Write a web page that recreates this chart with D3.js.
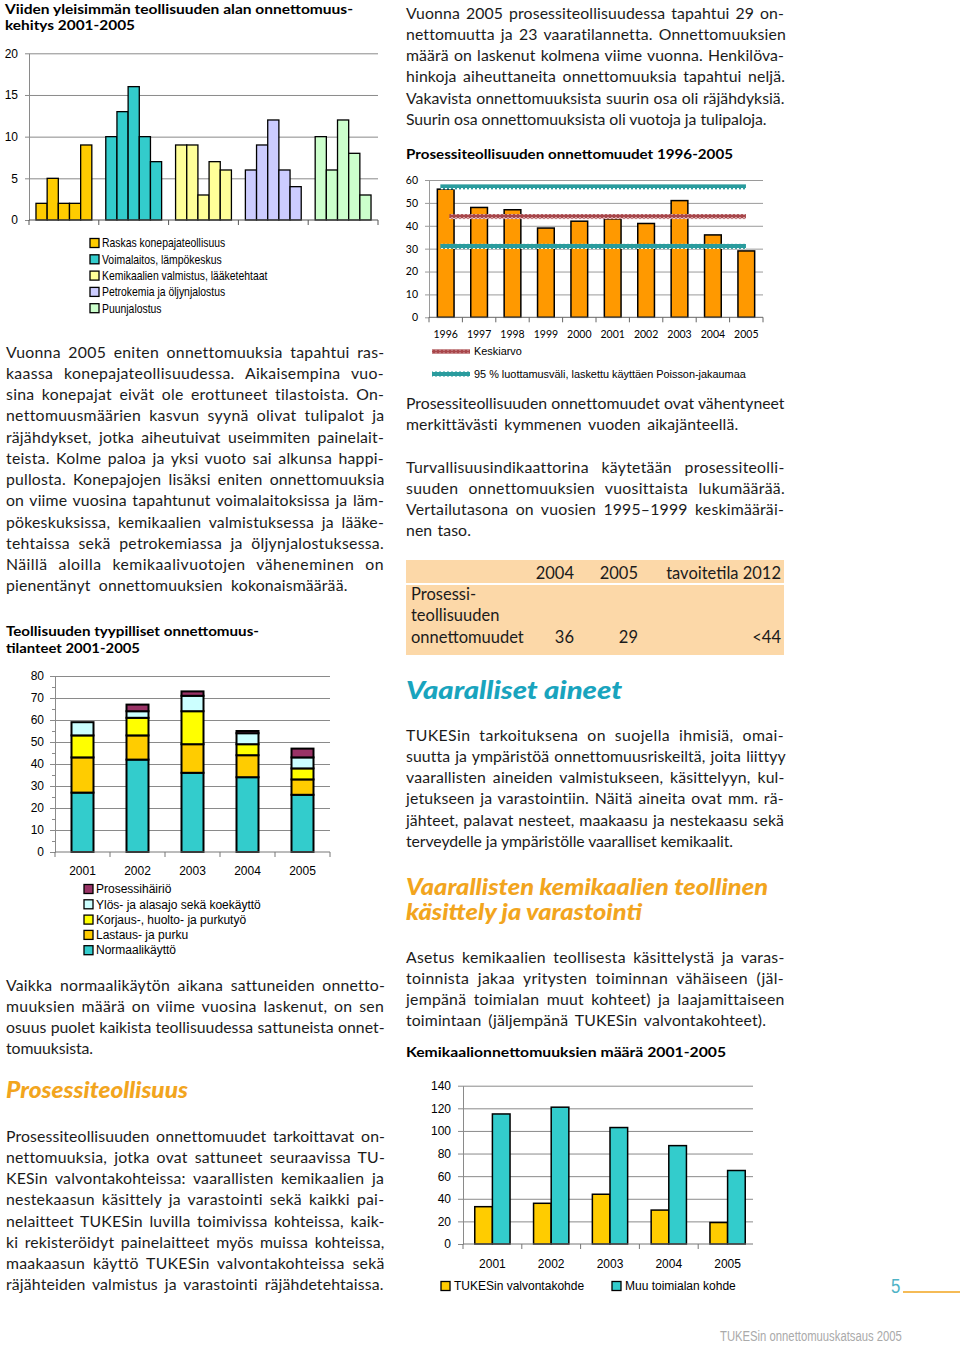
<!DOCTYPE html>
<html><head><meta charset="utf-8">
<script src="https://cdn.jsdelivr.net/npm/d3@7"></script>
<style>
body{margin:0;background:#fff}
svg{display:block}
</style></head><body>
<svg id="page" width="960" height="1347" font-family="Lato, 'Open Sans', sans-serif"></svg>
<script>
// ---------- DATA ----------
// Chart 1: Viiden yleisimmän teollisuuden alan onnettomuuskehitys 2001-2005
const chart1Years = ["2001","2002","2003","2004","2005"];
const chart1Industries = ["Raskas konepajateollisuus","Voimalaitos, lämpökeskus","Kemikaalien valmistus, lääketehtaat","Petrokemia ja öljynjalostus","Puunjalostus"];
const chart1Raskas = [2,5,2,2,9];
const chart1Voimalaitos = [10,13,16,10,7];
const chart1Kemikaalien = [9,9,3,7,6];
const chart1Petrokemia = [6,9,12,6,4];
const chart1Puunjalostus = [10,6,12,8,3];
const chart1Ticks = [0,5,10,15,20];

// Chart 2: Prosessiteollisuuden onnettomuudet 1996-2005
const chart2Years = ["1996","1997","1998","1999","2000","2001","2002","2003","2004","2005"];
const chart2Values = [56,48,47,39,42,43,41,51,36,29];
const chart2Mean = 44;
const chart2CILow = 31;
const chart2CIHigh = 57;
const chart2Ticks = [0,10,20,30,40,50,60];
const chart2Legend = ["Keskiarvo","95 % luottamusväli, laskettu käyttäen Poisson-jakaumaa"];

// Chart 3: Teollisuuden tyypilliset onnettomuustilanteet 2001-2005
const chart3Years = ["2001","2002","2003","2004","2005"];
const chart3Keys = ["Normaalikäyttö","Lastaus- ja purku","Korjaus-, huolto- ja purkutyö","Ylös- ja alasajo sekä koekäyttö","Prosessihäiriö"];
const chart3Normaali = [27,42,36,34,26];
const chart3Lastaus = [16,11,13,10,7];
const chart3Korjaus = [10,8,15,5,5];
const chart3Ylos = [6,3,7,5,5];
const chart3Prosessi = [0,3,2,1,4];
const chart3Ticks = [0,10,20,30,40,50,60,70,80];

// Chart 4: Kemikaalionnettomuuksien määrä 2001-2005
const chart4Years = ["2001","2002","2003","2004","2005"];
const chart4Series = ["TUKESin valvontakohde","Muu toimialan kohde"];
const chart4Tukes = [33,36,44,30,19];
const chart4Muu = [115,121,103,87,65];
const chart4Ticks = [0,20,40,60,80,100,120,140];

// Table
const tableHeaders = ["2004","2005","tavoitetila 2012"];
const tableRowLabel = ["Prosessi-","teollisuuden","onnettomuudet"];
const tableValues = ["36","29","<44"];

// ---------- TEXT ----------
const paraL1 = ["Vuonna 2005 eniten onnettomuuksia tapahtui ras-","kaassa konepajateollisuudessa. Aikaisempina vuo-","sina konepajat eivät ole erottuneet tilastoista. On-","nettomuusmäärien kasvun syynä olivat tulipalot ja","räjähdykset, jotka aiheutuivat useimmiten painelait-","teista. Kolme paloa ja yksi vuoto sai alkunsa happi-","pullosta. Konepajojen lisäksi eniten onnettomuuksia","on viime vuosina tapahtunut voimalaitoksissa ja läm-","pökeskuksissa, kemikaalien valmistuksessa ja lääke-","tehtaissa sekä petrokemiassa ja öljynjalostuksessa.","Näillä aloilla kemikaalivuotojen väheneminen on","pienentänyt onnettomuuksien kokonaismäärää."];
const paraL2 = ["Vaikka normaalikäytön aikana sattuneiden onnetto-","muuksien määrä on viime vuosina laskenut, on sen","osuus puolet kaikista teollisuudessa sattuneista onnet-","tomuuksista."];
const paraL3 = ["Prosessiteollisuuden onnettomuudet tarkoittavat on-","nettomuuksia, jotka ovat sattuneet seuraavissa TU-","KESin valvontakohteissa: vaarallisten kemikaalien ja","nestekaasun käsittely ja varastointi sekä kaikki pai-","nelaitteet TUKESin luvilla toimivissa kohteissa, kaik-","ki rekisteröidyt painelaitteet myös muissa kohteissa,","maakaasun käyttö TUKESin valvontakohteissa sekä","räjähteiden valmistus ja varastointi räjähdetehtaissa."];
const paraR1 = ["Vuonna 2005 prosessiteollisuudessa tapahtui 29 on-","nettomuutta ja 23 vaaratilannetta. Onnettomuuksien","määrä on laskenut kolmena viime vuonna. Henkilöva-","hinkoja aiheuttaneita onnettomuuksia tapahtui neljä.","Vakavista onnettomuuksista suurin osa oli räjähdyksiä.","Suurin osa onnettomuuksista oli vuotoja ja tulipaloja."];
const paraR2 = ["Prosessiteollisuuden onnettomuudet ovat vähentyneet","merkittävästi kymmenen vuoden aikajänteellä."];
const paraR3 = ["Turvallisuusindikaattorina käytetään prosessiteolli-","suuden onnettomuuksien vuosittaista lukumäärää.","Vertailutasona on vuosien 1995–1999 keskimääräi-","nen taso."];
const paraR4 = ["TUKESin tarkoituksena on suojella ihmisiä, omai-","suutta ja ympäristöä onnettomuusriskeiltä, joita liittyy","vaarallisten aineiden valmistukseen, käsittelyyn, kul-","jetukseen ja varastointiin. Näitä aineita ovat mm. rä-","jähteet, palavat nesteet, maakaasu ja nestekaasu sekä","terveydelle ja ympäristölle vaaralliset kemikaalit."];
const paraR5 = ["Asetus kemikaalien teollisesta käsittelystä ja varas-","toinnista jakaa yritysten toiminnan vähäiseen (jäl-","jempänä toimialan muut kohteet) ja laajamittaiseen","toimintaan (jäljempänä TUKESin valvontakohteet)."];

// ---------- DRAW ----------
const svg = d3.select("#page");
svg.append("rect").attr("width",960).attr("height",1347).attr("fill","#fff");
const defs = svg.append("defs");
const ARIAL = "'Liberation Sans', Arial, sans-serif";
const BODY_FS = 15.8, LH = 21.25, COLW = 378;

// patterns
const mp = defs.append("pattern").attr("id","meanPat").attr("width",4).attr("height",6).attr("patternUnits","userSpaceOnUse");
mp.append("rect").attr("width",4).attr("height",6).attr("fill","#a8464a");
mp.append("path").attr("d","M0,1.5 L2,3 L4,1.5 M0,4.5 L2,3 L4,4.5").attr("stroke","#fff").attr("stroke-width",0.8).attr("fill","none");
const cp = defs.append("pattern").attr("id","ciPat").attr("width",4).attr("height",6).attr("patternUnits","userSpaceOnUse");
cp.append("rect").attr("width",4).attr("height",6).attr("fill","#2a9c9e");
cp.append("rect").attr("x",1).attr("y",2).attr("width",2).attr("height",2).attr("fill","#fff");

function para(lines, x, y, last){
  const g = svg.append("g");
  lines.forEach((t,i)=>{
    const el = g.append("text").attr("x",x).attr("y",y+i*LH).attr("dy","0.35em")
      .attr("font-size",BODY_FS).attr("fill","#1b1b1b").text(t);
    const target = (i===lines.length-1) ? last : COLW;
    if(target){
      const w = el.node().getComputedTextLength();
      const spaces = (t.match(/ /g)||[]).length;
      const n = t.length;
      const extra = target - w;
      if(extra > 0 && spaces > 0){
        el.style("letter-spacing", (0.45*extra/n)+"px");
        el.style("word-spacing", (0.55*extra/spaces)+"px");
      } else {
        el.style("letter-spacing", (extra/n)+"px");
      }
    }
  });
}
function title(t, x, y, w, fs){
  svg.append("text").attr("x",x).attr("y",y).attr("dy","0.35em").attr("font-size",fs||13.5)
    .attr("font-weight","bold").attr("fill","#000").attr("textLength",w).attr("lengthAdjust","spacingAndGlyphs").text(t);
}
function heading(t, x, y, w, fs, color){
  svg.append("text").attr("x",x).attr("y",y).attr("dy","0.35em").attr("font-size",fs)
    .attr("font-weight",900).attr("font-style","italic").attr("fill",color)
    .attr("textLength",w).attr("lengthAdjust","spacingAndGlyphs").text(t);
}
function styleAxis(g, color){
  g.selectAll("path").attr("stroke",color);
  g.selectAll("line").attr("stroke",color);
}

// ===== Chart 1 =====
title("Viiden yleisimmän teollisuuden alan onnettomuus-",5,9,348);
title("kehitys 2001-2005",5,25,130);
{
  const x0=29,x1=378;
  const y = d3.scaleLinear().domain([0,20]).range([220,53.3]);
  const xg = d3.scaleBand().domain(chart1Industries).range([x0,x1]).paddingInner(0.2).paddingOuter(0.1);
  const xs = d3.scaleBand().domain(chart1Years).range([0,xg.bandwidth()]);
  const cols = ["#ffcc00","#33cccc","#ffff99","#ccccff","#ccffcc"];
  const series = [chart1Raskas,chart1Voimalaitos,chart1Kemikaalien,chart1Petrokemia,chart1Puunjalostus];
  const grid = svg.append("g").attr("transform",`translate(${x0},0)`)
    .call(d3.axisLeft(y).tickValues(chart1Ticks.slice(1)).tickSize(-(x1-x0)).tickFormat(""));
  grid.select(".domain").remove(); styleAxis(grid,"#8a8a8a");
  const ya = svg.append("g").attr("transform",`translate(${x0},0)`)
    .call(d3.axisLeft(y).tickValues(chart1Ticks).tickSize(4).tickSizeOuter(0).tickPadding(7));
  styleAxis(ya,"#8a8a8a");
  ya.selectAll("text").attr("font-family",ARIAL).attr("font-size",12).attr("fill","#000");
  series.forEach((vals,si)=>{
    svg.append("g").selectAll("rect").data(vals).join("rect")
      .attr("x",(d,i)=>xg(chart1Industries[si])+xs(chart1Years[i]))
      .attr("y",d=>y(d)).attr("width",xs.bandwidth()).attr("height",d=>y(0)-y(d))
      .attr("fill",cols[si]).attr("stroke","#000").attr("stroke-width",1.3);
  });
  svg.append("line").attr("x1",x0).attr("x2",x1).attr("y1",y(0)).attr("y2",y(0)).attr("stroke","#555");
  const bounds = chart1Industries.map(d=>xg(d)-(xg.step()-xg.bandwidth())/2).concat([x1]);
  svg.append("g").selectAll("line").data(bounds).join("line")
    .attr("x1",d=>d).attr("x2",d=>d).attr("y1",y(0)).attr("y2",y(0)+5).attr("stroke","#555");
  const lg = svg.append("g").selectAll("g").data(chart1Industries).join("g")
    .attr("transform",(d,i)=>`translate(90,${243+i*16.3})`);
  lg.append("rect").attr("x",0).attr("y",-4.5).attr("width",9).attr("height",9)
    .attr("fill",(d,i)=>cols[i]).attr("stroke","#000").attr("stroke-width",1.3);
  lg.append("text").attr("transform","translate(12,0) scale(0.84,1)").attr("dy","0.35em")
    .attr("font-family",ARIAL).attr("font-size",12.4).text(d=>d);
}

// ===== Paragraphs left =====
para(paraL1, 6, 352, 341);

// ===== Chart 3 =====
title("Teollisuuden tyypilliset onnettomuus-",6,631,253);
title("tilanteet 2001-2005",6,648,134);
{
  const x0=55,x1=330;
  const y = d3.scaleLinear().domain([0,80]).range([852,676]);
  const x = d3.scaleBand().domain(chart3Years).range([x0,x1]).paddingInner(0.6).paddingOuter(0.3);
  const table = chart3Years.map((yr,i)=>({year:yr,
    [chart3Keys[0]]:chart3Normaali[i],[chart3Keys[1]]:chart3Lastaus[i],[chart3Keys[2]]:chart3Korjaus[i],
    [chart3Keys[3]]:chart3Ylos[i],[chart3Keys[4]]:chart3Prosessi[i]}));
  const stack = d3.stack().keys(chart3Keys)(table);
  const cols = {"Normaalikäyttö":"#33cccc","Lastaus- ja purku":"#ffcc00","Korjaus-, huolto- ja purkutyö":"#ffff00","Ylös- ja alasajo sekä koekäyttö":"#ccffff","Prosessihäiriö":"#993366"};
  const grid = svg.append("g").attr("transform",`translate(${x0},0)`)
    .call(d3.axisLeft(y).tickValues(chart3Ticks.slice(1)).tickSize(-(x1-x0)).tickFormat(""));
  grid.select(".domain").remove(); styleAxis(grid,"#8a8a8a");
  const minor = svg.append("g").attr("transform",`translate(${x0},0)`)
    .call(d3.axisLeft(y).tickValues(d3.range(5,80,10)).tickSize(3).tickFormat(""));
  minor.select(".domain").remove(); styleAxis(minor,"#8a8a8a");
  const ya = svg.append("g").attr("transform",`translate(${x0},0)`)
    .call(d3.axisLeft(y).tickValues(chart3Ticks).tickSize(5).tickSizeOuter(0).tickPadding(6));
  styleAxis(ya,"#8a8a8a");
  ya.selectAll("text").attr("font-family",ARIAL).attr("font-size",12).attr("fill","#000");
  stack.forEach(s=>{
    svg.append("g").selectAll("rect").data(s.filter(d=>d[1]>d[0])).join("rect")
      .attr("x",d=>x(d.data.year)).attr("width",x.bandwidth())
      .attr("y",d=>y(d[1])).attr("height",d=>y(d[0])-y(d[1]))
      .attr("fill",cols[s.key]).attr("stroke","#000").attr("stroke-width",2);
  });
  svg.append("line").attr("x1",x0).attr("x2",x1).attr("y1",y(0)).attr("y2",y(0)).attr("stroke","#777");
  const bounds = chart3Years.map(d=>x(d)-(x.step()-x.bandwidth())/2).concat([x1]);
  svg.append("g").selectAll("line").data(bounds).join("line")
    .attr("x1",d=>d).attr("x2",d=>d).attr("y1",y(0)).attr("y2",y(0)+5).attr("stroke","#777");
  svg.append("g").selectAll("text").data(chart3Years).join("text")
    .attr("x",d=>x(d)+x.bandwidth()/2).attr("y",871).attr("dy","0.35em").attr("text-anchor","middle")
    .attr("font-family",ARIAL).attr("font-size",12).text(d=>d);
  const legendKeys = chart3Keys.slice().reverse();
  const lg = svg.append("g").selectAll("g").data(legendKeys).join("g")
    .attr("transform",(d,i)=>`translate(84,${889+i*15.3})`);
  lg.append("rect").attr("x",0).attr("y",-4.5).attr("width",9).attr("height",9)
    .attr("fill",d=>cols[d]).attr("stroke","#000").attr("stroke-width",1.3);
  lg.append("text").attr("x",12).attr("dy","0.35em").attr("font-family",ARIAL).attr("font-size",12).text(d=>d);
}

para(paraL2, 6, 985, 87);
heading("Prosessiteollisuus", 6, 1090, 182, 22, "#f2a51e");
para(paraL3, 6, 1136, COLW);

// ===== Right column =====
para(paraR1, 406, 13, 360);

// ===== Chart 2 =====
title("Prosessiteollisuuden onnettomuudet 1996-2005",406,154,327);
{
  const x0=429,x1=763;
  const y = d3.scaleLinear().domain([0,60]).range([317.3,180]);
  const x = d3.scaleBand().domain(chart2Years).range([x0,x1]).paddingInner(0.5).paddingOuter(0.25);
  const grid = svg.append("g").attr("transform",`translate(${x0},0)`)
    .call(d3.axisLeft(y).tickValues(chart2Ticks.slice(1)).tickSize(-(x1-x0)).tickFormat(""));
  grid.select(".domain").remove(); styleAxis(grid,"#9a9a9a");
  const ya = svg.append("g").attr("transform",`translate(${x0},0)`)
    .call(d3.axisLeft(y).tickValues(chart2Ticks).tickSize(4).tickSizeOuter(0).tickPadding(7));
  styleAxis(ya,"#9a9a9a");
  ya.selectAll("text").attr("font-size",10.5).attr("fill","#000").attr("font-family","Lato, sans-serif");
  svg.append("g").selectAll("rect").data(chart2Values).join("rect")
    .attr("x",(d,i)=>x(chart2Years[i])).attr("width",x.bandwidth())
    .attr("y",d=>y(d)).attr("height",d=>y(0)-y(d))
    .attr("fill","#ff9900").attr("stroke","#000").attr("stroke-width",1.5);
  svg.append("line").attr("x1",x0).attr("x2",x1).attr("y1",y(0)).attr("y2",y(0)).attr("stroke","#666");
  const bounds = chart2Years.map(d=>x(d)-(x.step()-x.bandwidth())/2).concat([x1]);
  svg.append("g").selectAll("line").data(bounds).join("line")
    .attr("x1",d=>d).attr("x2",d=>d).attr("y1",y(0)).attr("y2",y(0)+5).attr("stroke","#666");
  svg.append("g").selectAll("text").data(chart2Years).join("text")
    .attr("x",d=>x(d)+x.bandwidth()/2).attr("y",334).attr("dy","0.35em").attr("text-anchor","middle")
    .attr("font-size",10.5).text(d=>d);
  const first = chart2Years[0], lastY = chart2Years[chart2Years.length-1];
  const lines = [
    {v:chart2CIHigh, pat:"ciPat", xa:x(first)+3, xb:x(lastY)+8},
    {v:chart2CILow, pat:"ciPat", xa:x(first)+3, xb:x(lastY)+8},
    {v:chart2Mean, pat:"meanPat", xa:x(first)+12, xb:x(lastY)+8}
  ];
  svg.append("g").selectAll("rect").data(lines).join("rect")
    .attr("x",d=>d.xa).attr("width",d=>d.xb-d.xa).attr("y",d=>y(d.v)-2.5).attr("height",5)
    .attr("fill",d=>`url(#${d.pat})`);
  const lg = svg.append("g").selectAll("g").data(chart2Legend).join("g")
    .attr("transform",(d,i)=>`translate(432,${351.5+i*22.5})`);
  lg.append("rect").attr("x",0).attr("y",-2.5).attr("width",38).attr("height",5)
    .attr("fill",(d,i)=>i===0?"url(#meanPat)":"url(#ciPat)");
  lg.append("text").attr("x",42).attr("dy","0.35em").attr("font-family",ARIAL).attr("font-size",10.9).text(d=>d);
}

para(paraR2, 406, 403, 332);
para(paraR3, 406, 467, 65);

// ===== Table =====
{
  svg.append("rect").attr("x",406).attr("y",560).attr("width",378).attr("height",23).attr("fill","#fcd8a8");
  svg.append("rect").attr("x",406).attr("y",585).attr("width",378).attr("height",70).attr("fill","#fcd8a8");
  const colR = [574,638,781];
  svg.append("g").selectAll("text").data(tableHeaders).join("text")
    .attr("x",(d,i)=>colR[i]).attr("y",573).attr("dy","0.35em").attr("text-anchor","end")
    .attr("font-size",16.5).attr("fill","#1b1b1b").text(d=>d);
  svg.append("g").selectAll("text").data(tableRowLabel).join("text")
    .attr("x",411).attr("y",(d,i)=>594+i*21.5).attr("dy","0.35em")
    .attr("font-size",16.5).attr("fill","#1b1b1b").text(d=>d);
  svg.append("g").selectAll("text").data(tableValues).join("text")
    .attr("x",(d,i)=>colR[i]).attr("y",637).attr("dy","0.35em").attr("text-anchor","end")
    .attr("font-size",16.5).attr("fill","#1b1b1b").text(d=>d);
}

heading("Vaaralliset aineet", 406, 690, 216, 25, "#19a4be");
para(paraR4, 406, 735, 327);
heading("Vaarallisten kemikaalien teollinen", 406, 887, 362, 22, "#f2a51e");
heading("käsittely ja varastointi", 406, 912, 236, 22, "#f2a51e");
para(paraR5, 406, 957, 360);

// ===== Chart 4 =====
title("Kemikaalionnettomuuksien määrä 2001-2005",406,1052,320);
{
  const x0=463,x1=757;
  const y = d3.scaleLinear().domain([0,140]).range([1244,1085.7]);
  const x = d3.scaleBand().domain(chart4Years).range([x0,x1]).paddingInner(0.4).paddingOuter(0.2);
  const xs = d3.scaleBand().domain(chart4Series).range([0,x.bandwidth()]);
  const cols = ["#ffcc00","#33cccc"];
  const grid = svg.append("g").attr("transform",`translate(${x0},0)`)
    .call(d3.axisLeft(y).tickValues(chart4Ticks.slice(1)).tickSize(-(x1-x0-4)).tickFormat(""));
  grid.select(".domain").remove(); styleAxis(grid,"#8a8a8a");
  const ya = svg.append("g").attr("transform",`translate(${x0},0)`)
    .call(d3.axisLeft(y).tickValues(chart4Ticks).tickSize(5).tickSizeOuter(0).tickPadding(7));
  styleAxis(ya,"#8a8a8a");
  ya.selectAll("text").attr("font-family",ARIAL).attr("font-size",12).attr("fill","#000");
  [chart4Tukes,chart4Muu].forEach((vals,si)=>{
    svg.append("g").selectAll("rect").data(vals).join("rect")
      .attr("x",(d,i)=>x(chart4Years[i])+xs(chart4Series[si])).attr("width",xs.bandwidth())
      .attr("y",d=>y(d)).attr("height",d=>y(0)-y(d))
      .attr("fill",cols[si]).attr("stroke","#000").attr("stroke-width",1.5);
  });
  svg.append("line").attr("x1",x0).attr("x2",x1-4).attr("y1",y(0)).attr("y2",y(0)).attr("stroke","#777");
  const bounds = chart4Years.map(d=>x(d)-(x.step()-x.bandwidth())/2);
  svg.append("g").selectAll("line").data(bounds).join("line")
    .attr("x1",d=>d).attr("x2",d=>d).attr("y1",y(0)).attr("y2",y(0)+5).attr("stroke","#777");
  svg.append("g").selectAll("text").data(chart4Years).join("text")
    .attr("x",d=>x(d)+x.bandwidth()/2).attr("y",1264).attr("dy","0.35em").attr("text-anchor","middle")
    .attr("font-family",ARIAL).attr("font-size",12).text(d=>d);
  const lgx = [441,612];
  const lg = svg.append("g").selectAll("g").data(chart4Series).join("g")
    .attr("transform",(d,i)=>`translate(${lgx[i]},1286)`);
  lg.append("rect").attr("x",0).attr("y",-4.5).attr("width",9).attr("height",9)
    .attr("fill",(d,i)=>cols[i]).attr("stroke","#000").attr("stroke-width",1.3);
  lg.append("text").attr("x",13).attr("dy","0.35em").attr("font-family",ARIAL).attr("font-size",12).text(d=>d);
}

// ===== Footer =====
svg.append("text").attr("transform","translate(891,1286) scale(0.8,1)").attr("dy","0.35em").attr("font-family",ARIAL)
  .attr("font-size",21).attr("fill","#4fb3c6").text("5");
svg.append("line").attr("x1",903).attr("x2",960).attr("y1",1292).attr("y2",1292).attr("stroke","#f2a51e").attr("stroke-width",1.5);
{
  const ft = svg.append("text").attr("dy","0.35em").attr("font-family",ARIAL)
    .attr("font-size",15).attr("fill","#aaaaaa").text("TUKESin onnettomuuskatsaus 2005");
  const w = ft.node().getComputedTextLength();
  ft.attr("transform",`translate(720,1336) scale(${182/w},1)`);
}
</script>
</body></html>
